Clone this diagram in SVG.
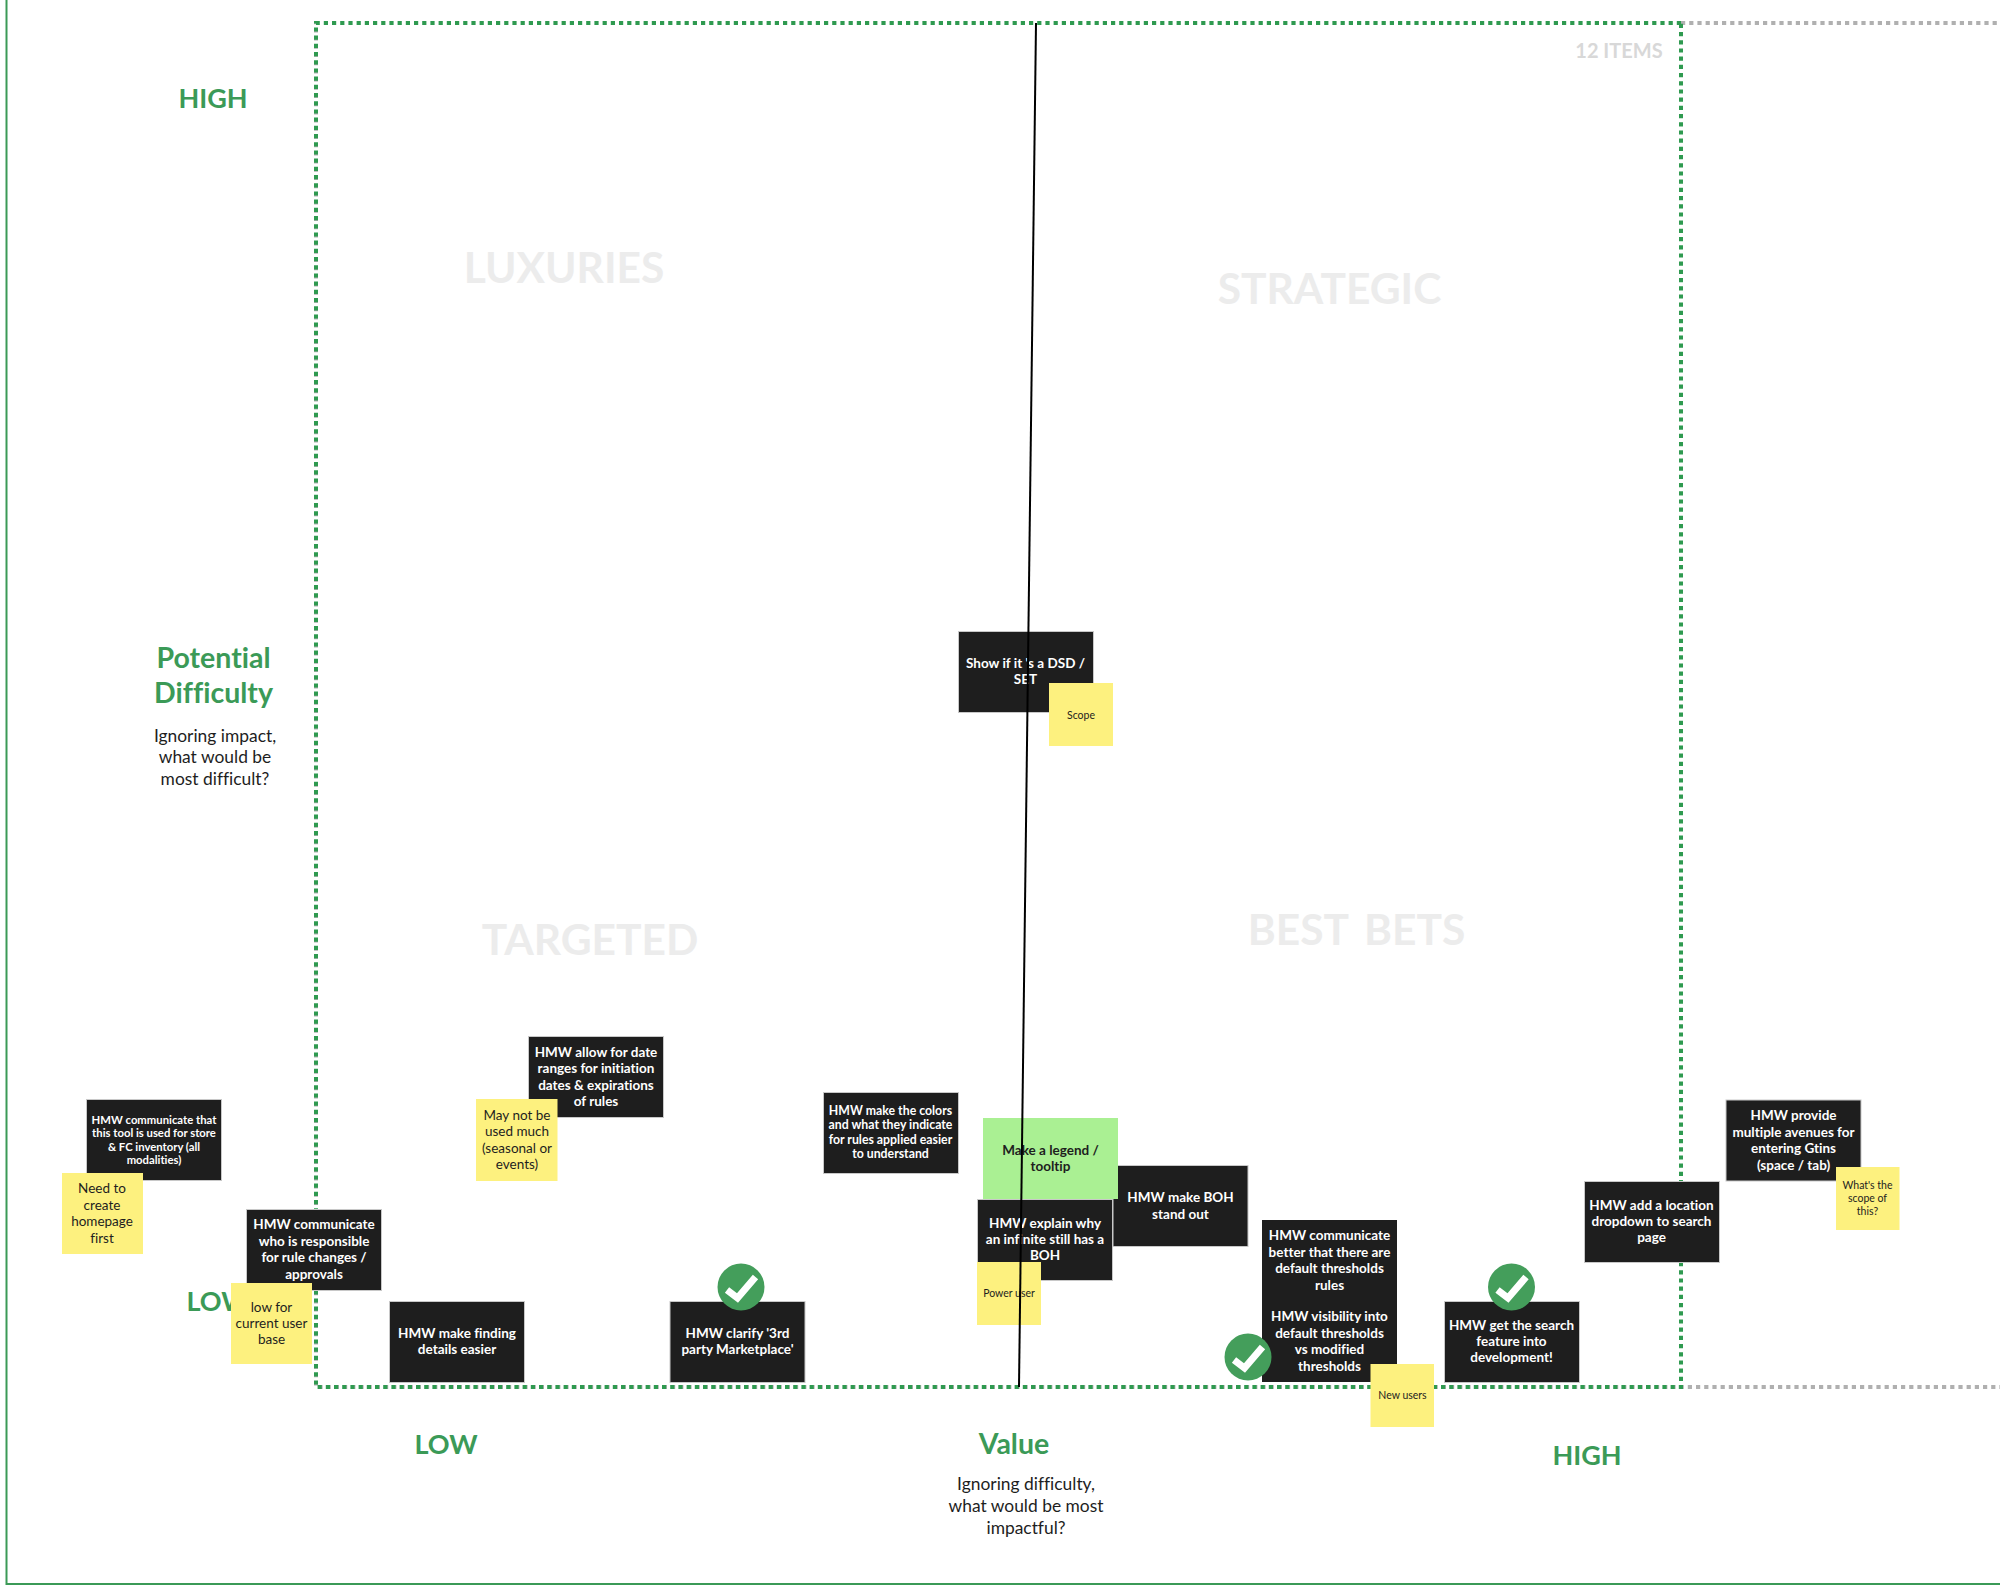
<svg xmlns="http://www.w3.org/2000/svg" width="2000" height="1590" viewBox="0 0 2000 1590">
<style>
text{font-family:"Lato","Open Sans","Liberation Sans",sans-serif;text-anchor:middle;font-variant-ligatures:none}
.d{fill:#1e1e1e;stroke:#c8c8c8;stroke-width:1}
.n{fill:#1e1e1e}
.y{fill:#fdf17f}
.g{fill:#aaf093}
.w{fill:#fff;font-size:13.500px;font-weight:700}
.ws{fill:#fff;font-size:11.300px;font-weight:700}
.wm{fill:#fff;font-size:12.300px;font-weight:700}
.b{fill:#1e1e1e;font-size:13.500px;font-weight:400}
.bs{fill:#1e1e1e;font-size:10.500px;font-weight:400}
.k{fill:#1e1e1e;font-size:13.500px;font-weight:700}
.h{fill:#3b9a57;font-size:27px;font-weight:700}
.m{fill:#3b9a57;font-size:28.500px;font-weight:700}
.s{fill:#1e1e1e;font-size:17.400px;font-weight:400}
.q{fill:#ececec;font-size:42.500px;font-weight:700}
.c{fill:#449e5b}
.t{fill:none;stroke:#fff;stroke-width:7}
.gd{fill:none;stroke:#b0b0b0;stroke-width:4;stroke-dasharray:4.200 4}
.gn{fill:none;stroke:#2f9a50;stroke-width:4;stroke-dasharray:4.200 4}
</style>
<g id="frame">
<path d="M6.500 0V1584H2000" fill="none" stroke="#3b9a57" stroke-width="2"/>
<path class="gd" d="M1681 23H2000"/>
<path class="gd" d="M316 23V1387H2000" stroke-dashoffset="3"/>
<path class="gn" d="M1681 23H316V1387H1681V23"/>
</g>
<g id="labels">
<text class="h" x="213" y="108">HIGH</text>
<text class="m" x="213.500" y="668">Potential</text>
<text class="m" x="213.500" y="703">Difficulty</text>
<text class="s" x="215" y="742">Ignoring impact,</text>
<text class="s" x="215" y="763">what would be</text>
<text class="s" x="215" y="784.500">most difficult?</text>
<text class="h" x="218" y="1311">LOW</text>
<text class="h" x="446" y="1454">LOW</text>
<text class="m" x="1014" y="1454">Value</text>
<text class="s" x="1026" y="1490">Ignoring difficulty,</text>
<text class="s" x="1026" y="1511.500">what would be most</text>
<text class="s" x="1026" y="1533.500">impactful?</text>
<text class="h" x="1587" y="1465">HIGH</text>
<text x="1619" y="58" font-size="20" font-weight="700" fill="#d8d8d8">12 ITEMS</text>
<text class="q" x="564" y="283">LUXURIES</text>
<text class="q" x="1329.500" y="304">STRATEGIC</text>
<text class="q" x="590" y="955">TARGETED</text>
<text class="q" x="1356.500" y="945" word-spacing="6">BEST BETS</text>
</g>
<g id="n-store"><rect class="d" x="86.500" y="1099.500" width="135" height="81"/><text class="ws" y="1123.800"><tspan x="154" >HMW communicate that</tspan><tspan x="154" dy="13.500">this tool is used for store</tspan><tspan x="154" dy="13.500">&amp; FC inventory (all</tspan><tspan x="154" dy="13.500">modalities)</tspan></text></g>
<g id="n-homepage"><rect class="y" x="62" y="1173" width="81" height="81"/><text class="b" y="1193.400"><tspan x="102">Need to</tspan><tspan x="102" dy="16.400">create</tspan><tspan x="102" dy="16.400">homepage</tspan><tspan x="102" dy="16.400">first</tspan></text></g>
<g id="n-responsible"><rect class="d" x="246.500" y="1209.500" width="135" height="81"/><text class="w" y="1229.400"><tspan x="314">HMW communicate</tspan><tspan x="314" dy="16.400">who is responsible</tspan><tspan x="314" dy="16.400">for rule changes /</tspan><tspan x="314" dy="16.400">approvals</tspan></text></g>
<g id="n-lowfor"><rect class="y" x="231" y="1283" width="81" height="81"/><text class="b" y="1311.600"><tspan x="271.500">low for</tspan><tspan x="271.500" dy="16.400">current user</tspan><tspan x="271.500" dy="16.400">base</tspan></text></g>
<g id="n-finding"><rect class="d" x="389.500" y="1301.500" width="135" height="81"/><text class="w" y="1337.800"><tspan x="457">HMW make finding</tspan><tspan x="457" dy="16.400">details easier</tspan></text></g>
<g id="n-dates"><rect class="d" x="528.500" y="1036.500" width="135" height="81"/><text class="w" y="1056.900"><tspan x="596">HMW allow for date</tspan><tspan x="596" dy="16.400">ranges for initiation</tspan><tspan x="596" dy="16.400">dates &amp; expirations</tspan><tspan x="596" dy="16.400">of rules</tspan></text></g>
<g id="n-seasonal"><rect class="y" x="476" y="1099" width="81.500" height="82"/><text class="b" y="1119.900"><tspan x="517">May not be</tspan><tspan x="517" dy="16.400">used much</tspan><tspan x="517" dy="16.400">(seasonal or</tspan><tspan x="517" dy="16.400">events)</tspan></text></g>
<g id="n-marketplace"><rect class="d" x="670" y="1301.500" width="135" height="81"/><text class="w" y="1337.800"><tspan x="737.500">HMW clarify '3rd</tspan><tspan x="737.500" dy="16.400">party Marketplace'</tspan></text><circle class="c" cx="741" cy="1287" r="23.500"/><path class="t" d="M727 1290L737.500 1298L755.500 1277"/></g>
<g id="n-colors"><rect class="d" x="823.500" y="1092.500" width="135" height="81"/><text class="wm" y="1115"><tspan x="890.500">HMW make the colors</tspan><tspan x="890.500" dy="14.400">and what they indicate</tspan><tspan x="890.500" dy="14.400">for rules applied easier</tspan><tspan x="890.500" dy="14.400">to understand</tspan></text></g>
<g id="n-boh"><rect class="d" x="1113" y="1165.500" width="135" height="81"/><text class="w" y="1202.300"><tspan x="1180.500">HMW make BOH</tspan><tspan x="1180.500" dy="16.400">stand out</tspan></text></g>
<g id="n-legend"><rect class="g" x="983" y="1118" width="135" height="81"/><text class="k" y="1154.800"><tspan x="1050.500">Make a legend /</tspan><tspan x="1050.500" dy="16.400">tooltip</tspan></text></g>
<g id="n-infinite"><rect class="d" x="977.500" y="1199.500" width="135" height="81"/><text class="w" y="1227.600"><tspan x="1045">HMW explain why</tspan><tspan x="1045" dy="16.400">an infinite still has a</tspan><tspan x="1045" dy="16.400">BOH</tspan></text></g>
<g id="n-power"><rect class="y" x="977" y="1262" width="64" height="63"/><text class="bs" x="1009" y="1297">Power user</text></g>
<g id="n-better"><rect class="n" x="1262" y="1220" width="135" height="81"/><text class="w" y="1240.400"><tspan x="1329.500">HMW communicate</tspan><tspan x="1329.500" dy="16.400">better that there are</tspan><tspan x="1329.500" dy="16.400">default thresholds</tspan><tspan x="1329.500" dy="16.400">rules</tspan></text></g>
<g id="n-visibility"><rect class="n" x="1262" y="1301" width="135" height="81"/><text class="w" y="1321.400"><tspan x="1329.500">HMW visibility into</tspan><tspan x="1329.500" dy="16.400">default thresholds</tspan><tspan x="1329.500" dy="16.400">vs modified</tspan><tspan x="1329.500" dy="16.400">thresholds</tspan></text><circle class="c" cx="1248" cy="1357" r="23.500"/><path class="t" d="M1234 1360L1244.500 1368L1262.500 1347"/></g>
<g id="n-newusers"><rect class="y" x="1370.500" y="1364" width="63.500" height="63"/><text class="bs" x="1402.500" y="1399">New users</text></g>
<g id="n-search"><rect class="d" x="1444.500" y="1301.500" width="135" height="81"/><text class="w" y="1329.600"><tspan x="1511.500">HMW get the search</tspan><tspan x="1511.500" dy="16.400">feature into</tspan><tspan x="1511.500" dy="16.400">development!</tspan></text><circle class="c" cx="1511.500" cy="1287" r="23.500"/><path class="t" d="M1497.500 1290L1508 1298L1526 1277"/></g>
<g id="n-location"><rect class="d" x="1584.500" y="1181.500" width="135" height="81"/><text class="w" y="1209.600"><tspan x="1651.500">HMW add a location</tspan><tspan x="1651.500" dy="16.400">dropdown to search</tspan><tspan x="1651.500" dy="16.400">page</tspan></text></g>
<g id="n-gtins"><rect class="d" x="1726" y="1100" width="135" height="81"/><text class="w" y="1120.400"><tspan x="1793.500">HMW provide</tspan><tspan x="1793.500" dy="16.400">multiple avenues for</tspan><tspan x="1793.500" dy="16.400">entering Gtins</tspan><tspan x="1793.500" dy="16.400">(space / tab)</tspan></text></g>
<g id="n-scope2"><rect class="y" x="1836" y="1167" width="63.500" height="63"/><text class="bs" y="1188.500"><tspan x="1867.500">What's the</tspan><tspan x="1867.500" dy="13">scope of</tspan><tspan x="1867.500" dy="13">this?</tspan></text></g>
<g id="n-dsd"><rect class="d" x="958.500" y="631.500" width="135" height="81"/><text class="w" y="667.800"><tspan x="1025.500">Show if it 's a DSD /</tspan><tspan x="1025.500" dy="16.400">SET</tspan></text></g>
<g id="n-scope"><rect class="y" x="1049" y="683" width="64" height="63"/><text class="bs" x="1081" y="719">Scope</text></g>
<g id="connectors"><path d="M1036 23L1019 1387" fill="none" stroke="#000" stroke-width="2"/></g>
</svg>
